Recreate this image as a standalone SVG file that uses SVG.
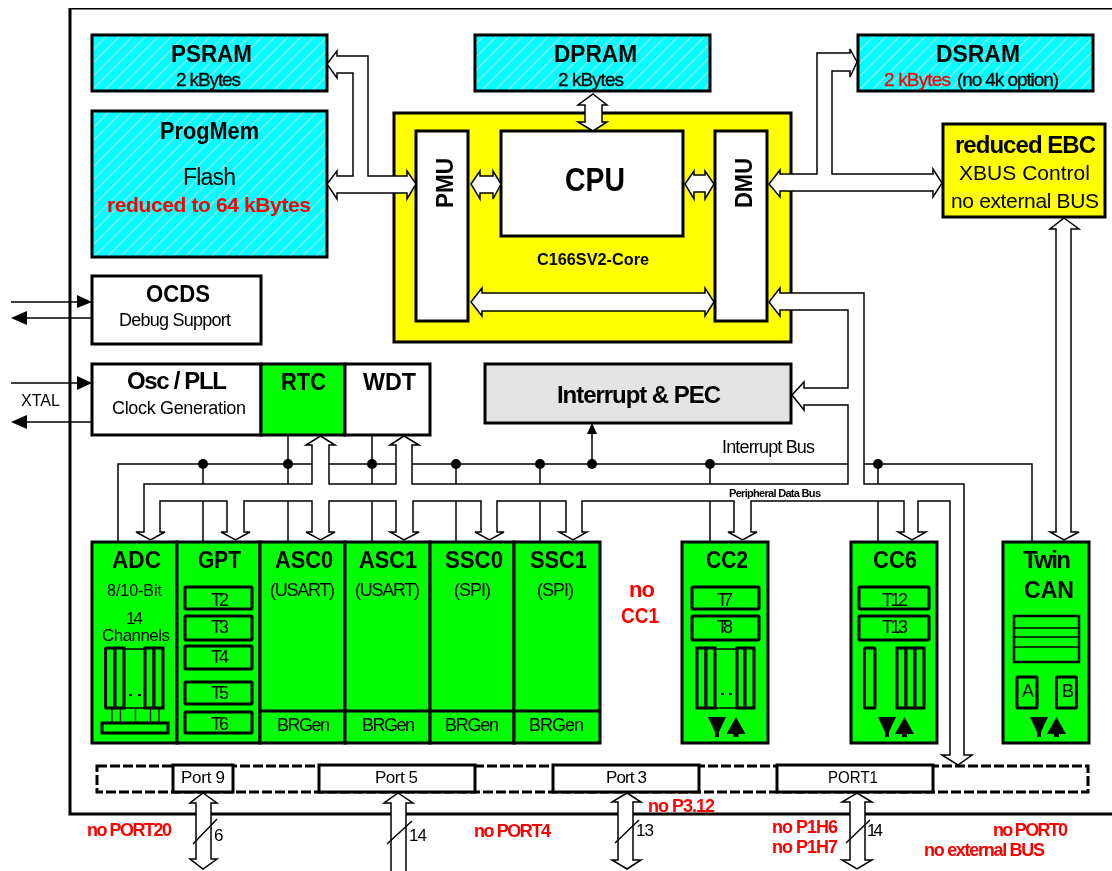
<svg xmlns="http://www.w3.org/2000/svg" width="1112" height="871" viewBox="0 0 1112 871">
<style>
text{font-family:"Liberation Sans",Arial,sans-serif;fill:#000}
.b{font-weight:700;font-size:24px}
.r{font-size:18px}
.m{font-size:19px;stroke:#000;stroke-width:.3px}
.red{fill:#f00;font-weight:700;font-size:18px}
.big{fill:#f00;font-weight:700;font-size:22px}
.box{stroke:#000;stroke-width:3;fill:#fff}
.cy{stroke:#000;stroke-width:3;fill:url(#hatch)}
.gr{stroke:#000;stroke-width:3;fill:#0f0}
.thin{stroke:#000;stroke-width:1.3;fill:none}
.rule{stroke:#000;stroke-width:3;fill:none}
.bus{stroke:#000;stroke-width:1.5;fill:#fff;stroke-linejoin:miter}
.wire{stroke:#000;stroke-width:1.5;fill:none}
.dot{fill:#000}
</style>
<defs>
<pattern id="hatch" width="13" height="13" patternUnits="userSpaceOnUse">
<rect width="13" height="13" fill="#0ff"/>
<path d="M-3 16L16 -3M-3 3L3 -3M10 16L16 10" stroke="#aee2e2" stroke-width="1.1"/>
</pattern>
<filter id="soft" x="0" y="0" width="100%" height="100%"><feGaussianBlur stdDeviation="0.35"/></filter>
</defs>
<rect width="1112" height="871" fill="#fff"/>
<g filter="url(#soft)">
<path id="chip-outline" d="M1112 8H70V814H1112" fill="none" stroke="#000" stroke-width="3"/>

<g id="psram"><rect class="cy" x="92" y="35" width="235" height="56"/>
<text class="b" x="171" y="62" textLength="81" lengthAdjust="spacingAndGlyphs">PSRAM</text>
<text class="m" x="176" y="86" textLength="65">2 kBytes</text></g>
<g id="progmem"><rect class="cy" x="92" y="111" width="235" height="146"/>
<text class="b" x="160" y="139" textLength="99" lengthAdjust="spacingAndGlyphs">ProgMem</text>
<text x="183" y="185" font-size="23" textLength="53">Flash</text>
<text class="red" x="107" y="212" style="font-size:21px" textLength="204">reduced to 64 kBytes</text></g>
<g id="ocds"><rect class="box" x="92" y="276" width="169" height="68"/>
<text class="b" x="146" y="302" textLength="64" lengthAdjust="spacingAndGlyphs">OCDS</text>
<text class="r" x="119" y="326" textLength="112">Debug Support</text></g>
<g id="osc"><rect class="box" x="92" y="364" width="169" height="71"/>
<text class="b" x="127" y="389" textLength="100">Osc / PLL</text>
<text class="r" x="112" y="414" textLength="134">Clock Generation</text></g>
<g id="rtc"><rect class="gr" x="261" y="364" width="84" height="71"/>
<text class="b" x="281" y="390" textLength="45" lengthAdjust="spacingAndGlyphs">RTC</text></g>
<g id="wdt"><rect class="box" x="345" y="364" width="85" height="71"/>
<text class="b" x="363" y="390" textLength="53" lengthAdjust="spacingAndGlyphs">WDT</text></g>
<g id="dpram"><rect class="cy" x="475" y="35" width="235" height="56"/>
<text class="b" x="554" y="62" textLength="83" lengthAdjust="spacingAndGlyphs">DPRAM</text>
<text class="m" x="558" y="86" textLength="66">2 kBytes</text></g>
<g id="dsram"><rect class="cy" x="858" y="35" width="235" height="56"/>
<text class="b" x="936" y="62" textLength="84" lengthAdjust="spacingAndGlyphs">DSRAM</text>
<text class="m" x="884" y="86" style="fill:#f00;stroke:#f00" textLength="67">2 kBytes</text>
<text class="m" x="957" y="86" textLength="102">(no 4k option)</text></g>
<g id="ebc"><rect x="943" y="124" width="162" height="93" fill="#ff0" stroke="#000" stroke-width="3"/>
<text class="b" x="955" y="153" textLength="141">reduced EBC</text>
<text x="959" y="180" font-size="21" textLength="131">XBUS Control</text>
<text x="951" y="208" font-size="21" textLength="148">no external BUS</text></g>
<g id="core"><rect x="394" y="113" width="397" height="229" fill="#ff0" stroke="#000" stroke-width="3"/>
<text x="537" y="265" font-size="17" font-weight="700" textLength="112" lengthAdjust="spacingAndGlyphs">C166SV2-Core</text></g>
<g id="pmu"><rect class="box" x="416" y="131" width="52" height="190"/>
<text class="b" transform="translate(453 208) rotate(-90)" textLength="50" lengthAdjust="spacingAndGlyphs">PMU</text></g>
<g id="cpu"><rect class="box" x="501" y="131" width="182" height="105"/>
<text x="565" y="191" font-size="33" font-weight="700" textLength="60" lengthAdjust="spacingAndGlyphs">CPU</text></g>
<g id="dmu"><rect class="box" x="715" y="131" width="52" height="190"/>
<text class="b" transform="translate(752 208) rotate(-90)" textLength="50" lengthAdjust="spacingAndGlyphs">DMU</text></g>
<g id="interrupt"><rect x="485" y="364" width="306" height="59" fill="#e4e4e4" stroke="#000" stroke-width="3"/>
<text class="b" x="557" y="403" textLength="164">Interrupt &amp; PEC</text></g>

<g id="adc"><rect class="gr" x="92" y="542" width="85" height="201"/>
<text class="b" x="112" y="568" textLength="49" lengthAdjust="spacingAndGlyphs">ADC</text>
<text x="107" y="596" font-size="16" textLength="55">8/10-Bit</text>
<text x="126" y="624" font-size="17" textLength="17">14</text>
<text x="102" y="641" font-size="17" textLength="68">Channels</text>
<path class="thin" d="M124 649h21v59h-21z"/>
<rect class="gr" x="105.500" y="648" width="9.500" height="60" rx="1"/><rect class="gr" x="115" y="648" width="9" height="60"/>
<rect class="gr" x="145" y="648" width="9" height="60"/><rect class="gr" x="154" y="648" width="9" height="60"/>
<path d="M129 695h3M138 695h3" stroke="#000" stroke-width="2"/>
<path class="thin" d="M112 708v15M120.500 708v15M135.500 708v15M150.500 708v15M159 708v15"/>
<rect class="gr" x="102" y="723" width="66" height="10"/></g>
<g id="gpt"><rect class="gr" x="177" y="542" width="83" height="201"/>
<text class="b" x="198" y="568" textLength="43" lengthAdjust="spacingAndGlyphs">GPT</text>
<rect class="gr" x="185" y="587" width="67" height="22" rx="1"/><text class="r" x="211" y="606" textLength="18">T2</text>
<rect class="gr" x="185" y="616" width="67" height="24" rx="1"/><text class="r" x="211" y="633" textLength="18">T3</text>
<rect class="gr" x="185" y="646" width="67" height="23" rx="1"/><text class="r" x="211" y="663" textLength="18">T4</text>
<rect class="gr" x="185" y="682" width="67" height="22" rx="1"/><text class="r" x="211" y="699" textLength="18">T5</text>
<rect class="gr" x="185" y="712" width="67" height="21" rx="1"/><text class="r" x="211" y="730" textLength="18">T6</text></g>
<g id="asc0"><rect class="gr" x="260" y="542" width="85" height="201"/><path class="rule" d="M260 711h85"/>
<text class="b" x="275" y="568" textLength="58" lengthAdjust="spacingAndGlyphs">ASC0</text>
<text class="r" x="270" y="596" textLength="65">(USART)</text>
<text class="r" x="277" y="731" textLength="53">BRGen</text></g>
<g id="asc1"><rect class="gr" x="345" y="542" width="85" height="201"/><path class="rule" d="M345 711h85"/>
<text class="b" x="359" y="568" textLength="58" lengthAdjust="spacingAndGlyphs">ASC1</text>
<text class="r" x="355" y="596" textLength="65">(USART)</text>
<text class="r" x="362" y="731" textLength="53">BRGen</text></g>
<g id="ssc0"><rect class="gr" x="430" y="542" width="84" height="201"/><path class="rule" d="M430 711h84"/>
<text class="b" x="445" y="568" textLength="58" lengthAdjust="spacingAndGlyphs">SSC0</text>
<text class="r" x="454" y="596" textLength="37">(SPI)</text>
<text class="r" x="445" y="731" textLength="54">BRGen</text></g>
<g id="ssc1"><rect class="gr" x="514" y="542" width="86" height="201"/><path class="rule" d="M514 711h86"/>
<text class="b" x="530" y="568" textLength="57" lengthAdjust="spacingAndGlyphs">SSC1</text>
<text class="r" x="537" y="596" textLength="37">(SPI)</text>
<text class="r" x="529" y="731" textLength="55">BRGen</text></g>
<g id="no-cc1"><text class="big" x="629" y="597" textLength="26">no</text>
<text class="big" x="621" y="623" textLength="38" lengthAdjust="spacingAndGlyphs">CC1</text></g>
<g id="cc2"><rect class="gr" x="682" y="542" width="86" height="201"/>
<text class="b" x="706" y="568" textLength="42" lengthAdjust="spacingAndGlyphs">CC2</text>
<rect class="gr" x="692" y="587" width="67" height="22" rx="1"/><text class="r" x="717" y="606" textLength="16">T7</text>
<rect class="gr" x="692" y="616" width="67" height="24" rx="1"/><text class="r" x="717" y="633" textLength="16">T8</text>
<path class="thin" d="M715 649h22v59h-22z"/>
<rect class="gr" x="697" y="648" width="9" height="60"/><rect class="gr" x="706" y="648" width="9" height="60"/>
<rect class="gr" x="737" y="648" width="8" height="60"/><rect class="gr" x="745" y="648" width="9" height="60"/>
<path d="M721 694h3M729 694h3" stroke="#000" stroke-width="2"/>
<path d="M708 717h18l-7 15v5h-4v-5zM736 717l9.500 17h-7v3h-5v-3h-7z" fill="#000"/></g>
<g id="cc6"><rect class="gr" x="851" y="542" width="86" height="201"/>
<text class="b" x="873" y="568" textLength="44" lengthAdjust="spacingAndGlyphs">CC6</text>
<rect class="gr" x="859" y="587" width="70" height="22" rx="1"/><text class="r" x="882" y="606" textLength="26">T12</text>
<rect class="gr" x="859" y="616" width="70" height="24" rx="1"/><text class="r" x="882" y="633" textLength="26">T13</text>
<rect class="gr" x="864.500" y="648" width="10.500" height="60" rx="1"/>
<rect class="gr" x="897" y="648" width="9" height="60"/><rect class="gr" x="906" y="648" width="9" height="60"/><rect class="gr" x="915" y="648" width="9" height="60"/>
<path d="M878 717h18l-7 15v5h-4v-5zM904.500 717l9.500 17h-7v3h-5v-3h-7z" fill="#000"/></g>
<g id="twincan"><rect class="gr" x="1003" y="542" width="86" height="201"/>
<text class="b" x="1023" y="568" textLength="48">Twin</text>
<text class="b" x="1024" y="598" textLength="50" lengthAdjust="spacingAndGlyphs">CAN</text>
<rect x="1014" y="616" width="65" height="46" fill="#0f0" stroke="#000" stroke-width="2.500"/>
<path class="thin" d="M1014 628h65M1014 637h65M1014 647h65"/>
<rect class="gr" x="1017" y="677" width="20" height="31" rx="1"/><text class="r" x="1022" y="697" textLength="12">A</text>
<rect class="gr" x="1056.500" y="677" width="20" height="31" rx="1"/><text class="r" x="1062" y="697" textLength="11">B</text>
<path d="M1030 717h18l-7 15v5h-4v-5zM1056.500 717l9.500 17h-7v3h-5v-3h-7z" fill="#000"/></g>

<g id="ports"><rect x="97" y="766" width="991" height="26" fill="#fff" stroke="#000" stroke-width="3" stroke-dasharray="10 3"/>
<g id="port9"><rect class="box" x="173" y="765" width="60" height="27"/><text x="181" y="783" font-size="17" textLength="44">Port 9</text></g>
<g id="port5"><rect class="box" x="319" y="765" width="156" height="27"/><text x="375" y="783" font-size="17" textLength="43">Port 5</text></g>
<g id="port3"><rect class="box" x="553" y="765" width="146" height="27"/><text x="606" y="783" font-size="17" textLength="41">Port 3</text></g>
<g id="port1"><rect class="box" x="777" y="765" width="156" height="27"/><text x="828" y="783" font-size="17" textLength="50" lengthAdjust="spacingAndGlyphs">PORT1</text></g></g>

<g id="connectors">
<path class="wire" d="M118 542V464H848M864 464H1032V542M203 464V542M288 435V542M372 435V542M456 464V542M540 464V542M710 464V542M878 464V542"/>
<path class="wire" d="M592 464V430"/>
<path d="M592 423l5 11h-10z" fill="#000"/>
<g class="dot"><circle cx="203" cy="464" r="5"/><circle cx="288" cy="464" r="5"/><circle cx="372" cy="464" r="5"/><circle cx="456" cy="464" r="5"/><circle cx="540" cy="464" r="5"/><circle cx="592" cy="464" r="5"/><circle cx="710" cy="464" r="5"/><circle cx="878" cy="464" r="5"/></g>

<path class="bus" d="M144 484H312V445H306L320.500 436L335 445H329V484H396V445H390L404 436L419 445H412V484H848V405H804V410L792 395L804 382V388H848V310H780V316L769 302L780 288V293H864V484H964V755H972L958 765L942 755H950V501H918V532H926L912 540L898 532H904V501H751V532H757L742.500 540L728 532H734V501H582V532H587L573 540L559 532H566V501H497V532H504L489.500 540L475 532H481V501H413V532H419L404 540L390 532H396V501H329V532H335L320.500 540L306 532H312V501H244V532H250L235.500 540L221 532H227V501H160V532H165L150.500 540L136 532H144Z"/>
<path class="bus" d="M327 64L337 51V56H368V176H407V171L416 184L407 199V193H337V199L327 184L337 171V176H353V73H337V78Z"/>
<path class="bus" d="M769 184L780 170V174H817V53H850V49L857 62L850 77V71H832V174H933V169L942 183L933 197V191H780V197Z"/>
<path class="bus" d="M471 184L480 171V176H493V171L501 184L493 199V193H480V199Z"/>
<path class="bus" d="M685 184L694 171V175H705V171L714 184L705 199V192H694V199Z"/>
<path class="bus" d="M471 302L482 288V293H705V288L714 302L705 316V311H482V316Z"/>
<path class="bus" d="M593 94L607 105H602V122H607L593 131L578 122H585V105H578Z"/>
<path class="bus" d="M1064 218L1079 229H1071V532H1079L1064 540L1050 532H1056V229H1050Z"/>
<path class="bus" d="M203 793L217 803H211V859H217L203 869L190 859H196V803H190Z"/>
<path class="bus" d="M398 793L413 803H406V873H391V803H384Z"/>
<path class="bus" d="M627 793L641 802H633V860H641L627 869L612 860H618V802H612Z"/>
<path class="bus" d="M857 793L872 802H865V860H872L857 869L842 860H850V802H842Z"/>
<path class="wire" d="M193 844L217 819M387 844L412 821M615 843L639 820M846 843L870 820"/>
<path class="wire" d="M11 302H78M27 318H92M11 383H78M27 422H92"/>
<path d="M92 302L77 295V308ZM11 318L27 311V325ZM92 383L77 376V390ZM11 422L27 415V429Z" fill="#000"/>
</g>

<g id="labels">
<text x="21" y="406" font-size="16" textLength="39">XTAL</text>
<text x="722" y="453" font-size="18" textLength="93">Interrupt Bus</text>
<text x="729" y="497" font-size="11" font-weight="700" textLength="92">Peripheral Data Bus</text>
<text x="214" y="841" font-size="17">6</text>
<text x="409" y="841" font-size="17" textLength="18">14</text>
<text x="636" y="836" font-size="17" textLength="18">13</text>
<text x="867" y="836" font-size="17" textLength="16">14</text>
<text class="red" x="87" y="836" textLength="85">no PORT20</text>
<text class="red" x="474" y="837" textLength="77">no PORT4</text>
<text class="red" x="648" y="812" textLength="67">no P3.12</text>
<text class="red" x="772" y="833" textLength="66">no P1H6</text>
<text class="red" x="772" y="853" textLength="66">no P1H7</text>
<text class="red" x="993" y="836" textLength="75">no PORT0</text>
<text class="red" x="924" y="856" textLength="121">no external BUS</text>
</g>
</g>
</svg>
